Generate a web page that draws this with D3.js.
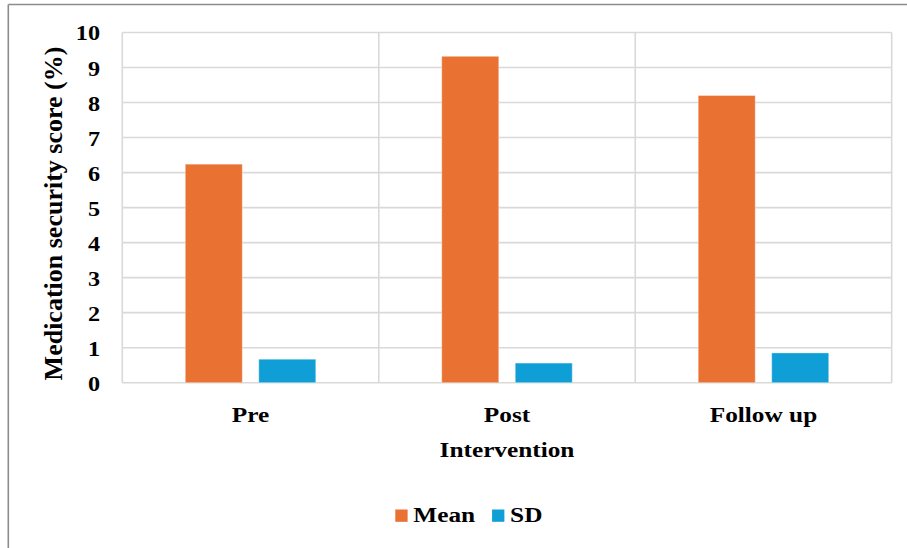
<!DOCTYPE html>
<html>
<head>
<meta charset="utf-8">
<script src="https://cdn.jsdelivr.net/npm/d3@7"></script>
<style>
  html, body { margin: 0; padding: 0; background: #fff; }
  svg { display: block; }
  text { font-family: "Liberation Serif", "Times New Roman", serif; font-weight: bold; fill: #000; }
</style>
</head>
<body>
<svg id="chart" width="907" height="548"></svg>
<script>
const categories = ["Pre", "Post", "Follow up"];
const seriesNames = ["Mean", "SD"];
const meanValues = [6.24, 9.32, 8.20];
const sdValues = [0.67, 0.56, 0.85];
const yTicks = [0, 1, 2, 3, 4, 5, 6, 7, 8, 9, 10];
const colors = ["#E97132", "#0F9ED5"];
const xTitle = "Intervention";
const yTitle = "Medication security score (%)";

const svg = d3.select("#chart");
const W = 907, H = 548;
const plot = { left: 122.3, right: 891.7, top: 32.5, bottom: 382.7 };
const SX = 1.15;

// outer frame
svg.append("line").attr("x1", 8.3).attr("x2", W).attr("y1", 4.5).attr("y2", 4.5)
  .attr("stroke", "#8c8c8c").attr("stroke-width", 1.6);
svg.append("line").attr("x1", 8.3).attr("x2", 8.3).attr("y1", 4.5).attr("y2", H)
  .attr("stroke", "#8c8c8c").attr("stroke-width", 1.6);

const x0 = d3.scaleBand().domain(categories).range([plot.left, plot.right]).padding(0);
const x1 = d3.scaleBand().domain(seriesNames).range([0, x0.bandwidth()])
  .paddingInner(0.2245).paddingOuter(0.857);
const y = d3.scaleLinear().domain([0, 10]).range([plot.bottom, plot.top]);

const grid = "#d9d9d9";
svg.append("g").selectAll("line").data(yTicks).join("line")
  .attr("x1", plot.left).attr("x2", plot.right)
  .attr("y1", d => y(d)).attr("y2", d => y(d))
  .attr("stroke", grid).attr("stroke-width", 1.6);
const seps = categories.map(c => x0(c)).concat([x0(categories[categories.length - 1]) + x0.bandwidth()]);
svg.append("g").selectAll("line").data(seps).join("line")
  .attr("x1", d => d).attr("x2", d => d)
  .attr("y1", plot.top).attr("y2", plot.bottom)
  .attr("stroke", grid).attr("stroke-width", 1.6);

// bars
const rows = categories.map((c, i) => ({ cat: c, vals: [meanValues[i], sdValues[i]] }));
const g = svg.append("g").selectAll("g").data(rows).join("g")
  .attr("transform", d => `translate(${x0(d.cat)},0)`);
g.selectAll("rect").data(d => d.vals.map((v, j) => ({ s: seriesNames[j], v, j })))
  .join("rect")
  .attr("x", d => x1(d.s))
  .attr("width", x1.bandwidth())
  .attr("y", d => y(d.v))
  .attr("height", d => y(0) - y(d.v))
  .attr("fill", d => colors[d.j])
  .attr("stroke", "rgba(255,255,255,0.35)")
  .attr("stroke-width", 1);

// y tick labels
const yAxis = d3.axisLeft(y).tickValues(yTicks).tickSize(0).tickPadding(0);
const ya = svg.append("g").attr("transform", `translate(100,0)`).call(yAxis);
ya.select(".domain").remove();
ya.selectAll("text")
  .attr("x", 0).attr("y", 0).attr("dy", "0.34em")
  .attr("transform", `scale(1.1,1)`)
  .attr("font-size", 22)
  .style("font-family", "'Liberation Serif', serif").style("font-weight", "bold").attr("fill", "#000");

// x category labels
const xAxis = d3.axisBottom(x0).tickSize(0).tickPadding(0);
const xa = svg.append("g").call(xAxis);
xa.select(".domain").remove();
xa.selectAll("text")
  .attr("x", 0).attr("y", 0).attr("dy", 0)
  .attr("transform", `translate(0,421.5) scale(${SX},1)`)
  .attr("font-size", 22)
  .style("font-family", "'Liberation Serif', serif").style("font-weight", "bold").attr("fill", "#000");

// x title
svg.append("text")
  .attr("transform", `translate(${(plot.left + plot.right) / 2},456.7) scale(${SX},1)`)
  .attr("text-anchor", "middle").attr("font-size", 22)
  .text(xTitle);

// y title
svg.append("text")
  .attr("transform", `translate(62,213.5) rotate(-90)`)
  .attr("text-anchor", "middle").attr("font-size", 26)
  .text(yTitle);

// legend
const legend = svg.append("g");
let lx = 395.3;
seriesNames.forEach((s, i) => {
  legend.append("rect").attr("x", lx).attr("y", 509.5).attr("width", 12.3).attr("height", 12.3)
    .attr("fill", colors[i]);
  const t = legend.append("text")
    .attr("transform", `translate(${lx + 18},522.3) scale(${SX},1)`)
    .attr("font-size", 22).text(s);
  lx = lx + 18 + t.node().getComputedTextLength() * SX + 17;
});
</script>
</body>
</html>
